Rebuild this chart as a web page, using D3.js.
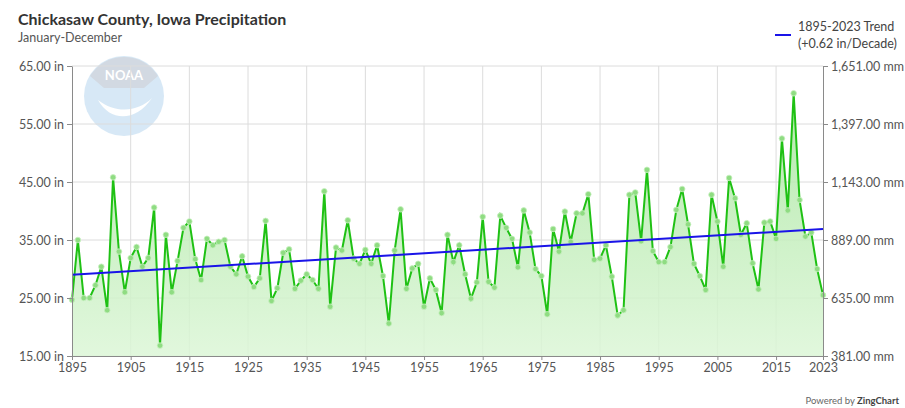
<!DOCTYPE html>
<html>
<head>
<meta charset="utf-8">
<script src="https://cdn.jsdelivr.net/npm/d3@7"></script>
<style>
  body { margin: 0; background: #fff; }
  text { font-family: Lato, "Open Sans", sans-serif; }
</style>
</head>
<body>
<script>
// annual precipitation (in), 1895-2023
var years = d3.range(1895, 2024);
var precip = [
  24.7, 35.0, 25.0, 25.0, 27.2, 30.4, 22.9, 45.8, 33.0, 26.0,
  31.9, 33.8, 30.4, 31.9, 40.6, 16.8, 35.9, 26.0, 31.4, 37.1,
  38.2, 31.7, 28.1, 35.2, 34.1, 34.7, 35.0, 30.4, 29.1, 32.2,
  28.7, 26.9, 28.4, 38.3, 24.5, 26.7, 32.8, 33.4, 26.6, 28.0,
  29.1, 28.1, 26.6, 43.4, 23.5, 33.7, 33.2, 38.4, 31.8, 30.9,
  33.3, 30.9, 34.1, 28.8, 20.6, 33.2, 40.3, 26.6, 30.1, 30.9,
  23.5, 28.4, 26.4, 22.4, 35.9, 31.2, 34.1, 29.1, 24.9, 27.7,
  39.0, 27.8, 26.8, 39.2, 37.1, 35.2, 30.3, 40.1, 36.3, 30.0,
  28.8, 22.2, 36.9, 33.0, 39.9, 34.7, 39.6, 39.6, 42.9, 31.6,
  31.8, 34.1, 28.7, 22.0, 22.9, 42.8, 43.2, 34.8, 47.1, 33.1,
  31.2, 31.2, 33.8, 40.2, 43.8, 37.7, 30.9, 28.8, 26.4, 42.8,
  38.2, 30.4, 45.7, 42.2, 35.9, 37.9, 31.0, 26.5, 38.0, 38.2,
  35.2, 52.5, 40.1, 60.3, 41.9, 35.6, 36.3, 30.0, 25.5
];
var trendYears = [1895, 2023];
var trendValues = [29.0, 36.9];
var yTicks = [15, 25, 35, 45, 55, 65];
var xTicks = [1895, 1905, 1915, 1925, 1935, 1945, 1955, 1965, 1975, 1985, 1995, 2005, 2015, 2023];

var data = years.map(function(y, i) { return { year: y, v: precip[i] }; });

var width = 905, height = 408;
var margin = { top: 66, right: 82, bottom: 52, left: 72 };

var svg = d3.select("body").append("svg")
    .attr("width", width)
    .attr("height", height);

var x = d3.scaleLinear().domain([1895, 2023]).range([margin.left, width - margin.right]);
var y = d3.scaleLinear().domain([15, 65]).range([height - margin.bottom, margin.top]);

var defs = svg.append("defs");
var grad = defs.append("linearGradient")
    .attr("id", "fillGrad")
    .attr("x1", 0).attr("y1", 0).attr("x2", 0).attr("y2", 1);
grad.append("stop").attr("offset", "0%").attr("stop-color", "#a9e69f");
grad.append("stop").attr("offset", "100%").attr("stop-color", "#dcf6d7");

// NOAA watermark
var logo = svg.append("g").attr("transform", "translate(124,96)").attr("opacity", 0.35);
logo.append("circle").attr("r", 40).attr("fill", "#8fc0e6");
logo.append("path")
    .attr("d", "M-34,-20 A40,40 0 0 1 34,-20 L20,-8 L-20,-8 Z")
    .attr("fill", "#7f93ad");
logo.append("path")
    .attr("d", "M-26,4 C-14,26 12,26 28,2 C14,16 -8,18 -26,4 Z")
    .attr("fill", "#fff");
logo.append("text")
    .attr("y", -16)
    .attr("text-anchor", "middle")
    .attr("fill", "#fff")
    .attr("font-size", 13)
    .attr("font-weight", "bold")
    .text("NOAA");

// grid
svg.append("g")
    .selectAll("line.h")
    .data(yTicks)
    .enter().append("line")
    .attr("x1", x(1895)).attr("x2", x(2023))
    .attr("y1", function(d) { return y(d); })
    .attr("y2", function(d) { return y(d); })
    .attr("stroke", "#dcdcdc");
svg.append("g")
    .selectAll("line.v")
    .data(xTicks.slice(1, -1))
    .enter().append("line")
    .attr("x1", function(d) { return x(d); })
    .attr("x2", function(d) { return x(d); })
    .attr("y1", y(65)).attr("y2", y(15))
    .attr("stroke", "#dcdcdc");

// area + line
svg.append("path")
    .datum(data)
    .attr("fill", "url(#fillGrad)")
    .attr("opacity", 0.85)
    .attr("d", d3.area()
        .x(function(d) { return x(d.year); })
        .y0(y(15))
        .y1(function(d) { return y(d.v); }));

svg.append("path")
    .datum(data)
    .attr("fill", "none")
    .attr("stroke", "#1fc114")
    .attr("stroke-width", 2)
    .attr("d", d3.line()
        .x(function(d) { return x(d.year); })
        .y(function(d) { return y(d.v); }));

svg.append("g")
    .selectAll("circle")
    .data(data)
    .enter().append("circle")
    .attr("cx", function(d) { return x(d.year); })
    .attr("cy", function(d) { return y(d.v); })
    .attr("r", 2.8)
    .attr("fill", "#8fdc82")
    .attr("stroke", "#c9f0c2")
    .attr("stroke-width", 0.8);

// trend line
svg.append("line")
    .attr("x1", x(trendYears[0])).attr("y1", y(trendValues[0]))
    .attr("x2", x(trendYears[1])).attr("y2", y(trendValues[1]))
    .attr("stroke", "#1a14e8")
    .attr("stroke-width", 2);

// axes
function styleAxis(g) {
    g.selectAll("path.domain").attr("stroke", "#8a8a8a");
    g.selectAll(".tick line").attr("stroke", "#8a8a8a");
    g.selectAll(".tick text")
        .attr("fill", "#555")
        .attr("font-size", 12.5)
        .style("font-family", "Lato, sans-serif");
}

svg.append("g")
    .attr("transform", "translate(" + margin.left + ",0)")
    .call(d3.axisLeft(y).tickValues(yTicks).tickSize(5).tickSizeOuter(0)
        .tickFormat(function(d) { return d.toFixed(2) + " in"; }))
    .call(styleAxis);

svg.append("g")
    .attr("transform", "translate(" + (width - margin.right) + ",0)")
    .call(d3.axisRight(y).tickValues(yTicks).tickSize(5).tickSizeOuter(0)
        .tickFormat(function(d) { return d3.format(",.2f")(d * 25.4) + " mm"; }))
    .call(styleAxis);

svg.append("g")
    .attr("transform", "translate(0," + (height - margin.bottom) + ")")
    .call(d3.axisBottom(x).tickValues(xTicks).tickSize(4).tickSizeOuter(0)
        .tickFormat(d3.format("d")))
    .call(styleAxis);

// titles
svg.append("text")
    .attr("x", 18).attr("y", 25)
    .attr("font-size", 16)
    .attr("font-weight", "bold")
    .attr("fill", "#333")
    .text("Chickasaw County, Iowa Precipitation");
svg.append("text")
    .attr("x", 18).attr("y", 42)
    .attr("font-size", 12.5)
    .attr("fill", "#555")
    .text("January-December");

// legend
svg.append("line")
    .attr("x1", 775).attr("x2", 791)
    .attr("y1", 35).attr("y2", 35)
    .attr("stroke", "#1a14e8")
    .attr("stroke-width", 2);
svg.append("text")
    .attr("x", 798).attr("y", 31)
    .attr("font-size", 12.5)
    .attr("fill", "#444")
    .text("1895-2023 Trend");
svg.append("text")
    .attr("x", 798).attr("y", 48)
    .attr("font-size", 12.5)
    .attr("fill", "#444")
    .text("(+0.62 in/Decade)");

// credit
var credit = svg.append("text")
    .attr("x", 899).attr("y", 404)
    .attr("text-anchor", "end")
    .attr("font-size", 9.5)
    .attr("fill", "#666");
credit.append("tspan").text("Powered by ");
credit.append("tspan").attr("font-weight", "bold").attr("fill", "#444").text("ZingChart");
</script>
</body>
</html>
